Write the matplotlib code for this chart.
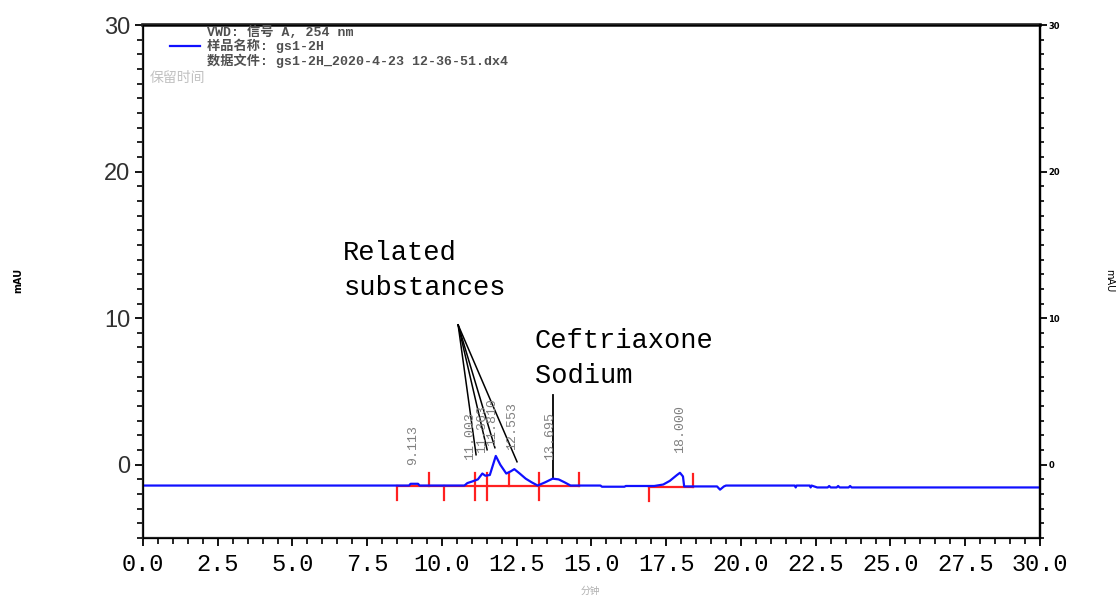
import numpy as np
import matplotlib.pyplot as plt
from matplotlib.ticker import MultipleLocator

# retention time (min) and detector signal (mAU), read point by point
time_min = [0.0, 8.9, 8.95, 9.2, 9.25, 10.75, 10.85, 11.0, 11.2, 11.35, 11.45,
            11.6, 11.8, 11.95, 12.15, 12.3, 12.42, 12.6, 12.8, 13.0, 13.2,
            13.45, 13.7, 13.9, 14.1, 14.3, 15.3, 15.35, 16.1, 16.15, 17.1,
            17.4, 17.62, 17.86, 17.96, 18.06, 18.1, 19.2, 19.3, 19.43, 19.5,
            21.8, 21.83, 21.86, 22.3, 22.33, 22.36, 22.55, 22.9, 22.95, 23.0,
            23.2, 23.25, 23.3, 23.6, 23.65, 23.7, 30.0]
signal_mau = [-1.42, -1.42, -1.3, -1.3, -1.42, -1.42, -1.25, -1.15, -1.0, -0.6,
              -0.75, -0.7, 0.6, 0.0, -0.6, -0.45, -0.3, -0.6, -0.95, -1.2, -1.42,
              -1.2, -0.95, -1.0, -1.2, -1.42, -1.42, -1.5, -1.5, -1.45, -1.45,
              -1.35, -1.1, -0.7, -0.55, -0.8, -1.48, -1.48, -1.7, -1.48, -1.42,
              -1.42, -1.55, -1.42, -1.42, -1.55, -1.42, -1.55, -1.55, -1.45,
              -1.55, -1.55, -1.45, -1.55, -1.55, -1.45, -1.55, -1.55]

# peak labels
peak_rt = [9.113, 11.003, 11.363, 11.810, 12.553, 13.695, 18.000]
peak_x = [9.03, 10.94, 11.35, 11.68, 12.33, 13.6, 17.96]
peak_label_y = [0.0, 0.3, 0.8, 1.3, 1.0, 0.35, 0.8]

# integration events: time and kind (d = down, u = up, b = both)
event_t = [8.49, 9.57, 10.07, 11.10, 11.50, 12.24, 13.24, 14.58, 16.93, 18.39]
event_kind = ['d', 'u', 'd', 'b', 'b', 'u', 'b', 'u', 'd', 'u']
base_segments = [(8.49, 14.58, -1.42), (16.93, 18.39, -1.5)]

related_from = (10.54, 9.54)
related_to = [(11.14, 0.68), (11.51, 1.02), (11.77, 1.16), (12.51, 0.2)]
sodium_line = (13.71, 4.77, -0.9)

mono = 'Liberation Mono'
cjk = ['Noto Sans CJK SC', 'DejaVu Sans']
mono_cjk = ['Liberation Mono', 'Noto Sans CJK SC']

fig = plt.figure(figsize=(11.18, 6), dpi=100)
ax = fig.add_axes([0.1279, 0.1033, 0.8023, 0.855])

# integration baseline and event marks
for t0, t1, yb in base_segments:
    ax.plot([t0, t1], [yb, yb], color='#ff2020', lw=1.6, zorder=2)
for t, k in zip(event_t, event_kind):
    yb = -1.42 if t < 15 else -1.5
    lo = yb - 1.0 if k in 'db' else yb
    hi = yb + 0.85 if k in 'ub' else yb
    ax.plot([t, t], [lo, hi], color='#ff2020', lw=1.6, zorder=2)

ax.plot(time_min, signal_mau, color='#1010ff', lw=1.6, zorder=3)

for x, y, rt in zip(peak_x, peak_label_y, peak_rt):
    ax.text(x, y, f'{rt:.3f}', rotation=90, ha='center', va='bottom',
            fontsize=9.5, family=mono, color='#808080')

# annotations
for xe, ye in related_to:
    ax.plot([related_from[0], xe], [related_from[1], ye], color='black', lw=1.1)
ax.plot([sodium_line[0]] * 2, sodium_line[1:], color='black', lw=1.3)
ax.text(6.7, 15.3, 'Related\nsubstances', fontsize=19.5, family=mono,
        va='top', ha='left', linespacing=1.45)
ax.text(13.1, 9.3, 'Ceftriaxone\nSodium', fontsize=19.5, family=mono,
        va='top', ha='left', linespacing=1.45)

ax.set_xlim(0, 30)
ax.set_ylim(-5, 30)
ax.xaxis.set_major_locator(MultipleLocator(2.5))
ax.xaxis.set_minor_locator(MultipleLocator(0.5))
ax.yaxis.set_major_locator(MultipleLocator(10))
ax.yaxis.set_minor_locator(MultipleLocator(1))
ax.set_xticklabels([f'{v:.1f}' for v in ax.get_xticks()])
ax.tick_params(axis='x', which='major', length=6, width=1.3, labelsize=17, pad=5)
ax.tick_params(axis='x', which='minor', length=4, width=1.2)
ax.tick_params(axis='y', which='major', length=6, width=1.3, labelsize=17, pad=3)
ax.tick_params(axis='y', which='minor', length=4, width=1.2)
for lab in ax.get_xticklabels():
    lab.set_family(mono)
for lab in ax.get_yticklabels():
    lab.set_family('Liberation Sans')
    lab.set_color('#303030')
for s in ax.spines.values():
    s.set_linewidth(1.6)
    s.set_color('#202020')
ax.spines['top'].set_linewidth(2.6)

ax2 = ax.twinx()
ax2.set_ylim(-5, 30)
ax2.yaxis.set_major_locator(MultipleLocator(10))
ax2.yaxis.set_minor_locator(MultipleLocator(1))
ax2.tick_params(axis='y', which='major', length=5, width=1.3, labelsize=6, pad=1)
ax2.tick_params(axis='y', which='minor', length=3, width=1.2)
for lab in ax2.get_yticklabels():
    lab.set_fontweight('bold')
ax2.spines['right'].set_linewidth(1.6)

fig.text(0.016, 0.533, 'mAU', rotation=90, fontsize=7, fontweight='bold',
         ha='center', va='center')
fig.text(0.992, 0.533, 'mAU', rotation=270, fontsize=7,
         ha='center', va='center')
fig.text(0.528, 0.016, '分钟', fontsize=7, color='#b0b0b0', family=cjk,
         ha='center', va='center')

# legend block
fig.add_artist(plt.Line2D([170 / 1118, 200 / 1118], [1 - 46 / 600] * 2,
                          color='#1010ff', lw=1.6))
fig.text(207 / 1118, 1 - 32 / 600, 'VWD: 信号 A, 254 nm', fontsize=9.5,
         family=mono_cjk, color='#505050', va='center', fontweight='bold')
fig.text(207 / 1118, 1 - 46 / 600, '样品名称: gs1-2H', fontsize=9.5,
         family=mono_cjk, color='#505050', va='center', fontweight='bold')
fig.text(207 / 1118, 1 - 61 / 600, '数据文件: gs1-2H_2020-4-23 12-36-51.dx4',
         fontsize=9.5, family=mono_cjk, color='#505050', va='center',
         fontweight='bold')
fig.text(150 / 1118, 1 - 78 / 600, '保留时间', fontsize=10, family=cjk,
         color='#c0c0c0', va='center')

fig.savefig('out.png', dpi=100)
